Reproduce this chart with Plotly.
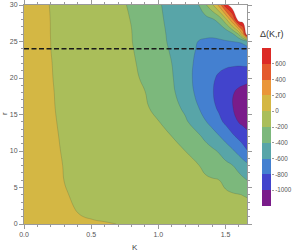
import plotly.graph_objects as go

# ---- data ----
K_vals = [0, 0.1, 0.2, 0.3, 0.4, 0.5, 0.6, 0.7, 0.8, 0.9, 1.0, 1.1, 1.2, 1.3, 1.35, 1.4, 1.45, 1.5, 1.55, 1.6, 1.63, 1.66]
r_vals = [0, 0.5, 1, 2, 4, 6, 8, 10, 12, 14, 16, 18, 20, 22, 24, 25, 26, 28, 30]

delta_r0 = [100, 85, 71, 56, 41, 26, 12, -2, -10, -18, -26, -34, -42, -51, -55, -59, -63, -67, -71, -75, -78, -80]
delta_r05 = [100, 81, 62, 42, 23, 4, -7, -15, -23, -32, -40, -48, -57, -65, -69, -73, -77, -82, -86, -90, -93, -95]
delta_r1 = [100, 76, 52, 29, 5, -7, -16, -25, -34, -43, -51, -60, -69, -78, -83, -87, -92, -96, -100, -105, -108, -110]
delta_r2 = [100, 72, 44, 17, -4, -15, -26, -37, -47, -58, -69, -80, -91, -101, -107, -112, -117, -123, -128, -134, -137, -140]
delta_r4 = [100, 69, 38, 6, -12, -27, -42, -58, -73, -88, -103, -118, -133, -148, -156, -164, -171, -179, -186, -194, -204, -215]
delta_r6 = [100, 66, 32, -1, -18, -35, -52, -69, -86, -103, -120, -137, -154, -171, -180, -188, -197, -232, -284, -337, -368, -400]
delta_r8 = [100, 64, 29, -4, -23, -42, -62, -81, -100, -119, -138, -158, -177, -196, -231, -267, -308, -350, -392, -462, -508, -555]
delta_r10 = [100, 62, 23, -9, -30, -51, -72, -94, -115, -136, -157, -179, -200, -283, -325, -367, -415, -492, -569, -663, -726, -790]
delta_r12 = [100, 59, 18, -13, -36, -60, -83, -106, -130, -153, -177, -200, -287, -374, -441, -508, -585, -673, -764, -845, -890, -935]
delta_r14 = [105, 59, 14, -18, -43, -68, -94, -119, -144, -170, -195, -276, -371, -508, -588, -667, -750, -836, -927, -1011, -1045, -1080]
delta_r16 = [105, 57, 10, -22, -49, -76, -103, -130, -157, -184, -237, -330, -440, -600, -677, -754, -832, -912, -992, -1060, -1090, -1120]
delta_r18 = [110, 59, 8, -24, -53, -82, -111, -140, -168, -197, -278, -365, -500, -653, -720, -787, -853, -920, -987, -1030, -1045, -1060]
delta_r20 = [110, 58, 5, -27, -57, -87, -116, -146, -176, -217, -300, -383, -528, -663, -720, -777, -822, -858, -894, -945, -952, -960]
delta_r22 = [110, 56, 3, -29, -60, -90, -121, -151, -182, -233, -317, -400, -538, -643, -684, -725, -760, -770, -772, -768, -762, -755]
delta_r24 = [115, 57, 0, -32, -63, -95, -127, -159, -190, -256, -336, -421, -526, -620, -650, -670, -685, -695, -695, -690, -680, -665]
delta_r25 = [115, 56, -1, -34, -66, -98, -131, -163, -195, -268, -348, -431, -520, -603, -607, -610, -608, -605, -600, -585, -560, -480]
delta_r26 = [115, 56, -2, -34, -67, -99, -132, -164, -197, -272, -352, -437, -529, -585, -590, -590, -585, -570, -455, -178, 244, 950]
delta_r28 = [120, 57, -3, -36, -69, -102, -136, -169, -204, -284, -364, -455, -555, -510, -470, -430, -338, -76, 356, 950, 950, 950]
delta_r30 = [120, 53, -7, -40, -73, -107, -140, -173, -216, -296, -376, -475, -533, -405, -233, -40, 240, 700, 950, 950, 950, 950]

delta_grid = [delta_r0, delta_r05, delta_r1, delta_r2, delta_r4, delta_r6, delta_r8, delta_r10,
              delta_r12, delta_r14, delta_r16, delta_r18, delta_r20, delta_r22, delta_r24,
              delta_r25, delta_r26, delta_r28, delta_r30]

level_edges = [-1200, -1000, -800, -600, -400, -200, 0, 200, 400, 600, 800]
band_colors = ["#7a1c8a", "#4244cc", "#4480d0", "#58a5a8", "#7cb87c",
               "#aabe5a", "#d4b744", "#ea963a", "#e45a2d", "#dc2a26"]
cbar_ticks = [-1000, -800, -600, -400, -200, 0, 200, 400, 600]
cbar_labels = ["-1000", "-800", "-600", "-400", "-200", "0", "200", "400", "600"]
dashed_r = 24
x_ticks = [0, 0.5, 1.0, 1.5]
x_labels = ["0.0", "0.5", "1.0", "1.5"]
y_ticks = [0, 5, 10, 15, 20, 25, 30]

# ---- stepped colour scale (bands of 200; white above 800) ----
cols = band_colors + ["#ffffff"]
scale = []
for k, c in enumerate(cols):
    lo = 0 if k == 0 else (2 * (k - 1) + 1.5) / 22
    hi = 1 if k == len(cols) - 1 else (2 * k + 1.5) / 22
    scale.append([lo, c])
    scale.append([hi, c])

band_mids = [[(level_edges[i] + level_edges[i + 1]) / 2] for i in range(len(level_edges) - 1)]

FONT = "Liberation Sans"
AX = "#9a9a9a"
TXT = "#555555"

fig = go.Figure()
fig.add_trace(go.Contour(
    x=K_vals, y=r_vals, z=delta_grid,
    autocontour=False,
    contours=dict(start=-1000, end=1000, size=200, coloring="fill", showlines=True),
    colorscale=scale, showscale=False,
    line=dict(color="rgba(40,40,40,0.28)", width=0.6, smoothing=1.3),
    hoverinfo="skip",
))
fig.add_trace(go.Heatmap(
    x=[0, 1], y=level_edges, z=band_mids,
    zmin=-1100, zmax=1100, colorscale=scale, showscale=False,
    xaxis="x2", yaxis="y2", hoverinfo="skip",
))

W, H = 294, 252
ml, mr, mt, mb = 24, 4, 5, 28
pw = W - ml - mr
ph = H - mt - mb


def px_x(p):
    return (p - ml) / pw


def px_y(p):
    return (H - mb - p) / ph


fig.add_shape(type="line", xref="x", yref="y", x0=0, x1=1.66, y0=dashed_r, y1=dashed_r,
              line=dict(color="#1a1a1a", width=1.6, dash="5px,2.5px"))

common = dict(ticks="outside", tickcolor=AX, showline=True, linecolor=AX, linewidth=1,
              mirror="ticks", showgrid=False, zeroline=False, automargin=False,
              tickfont=dict(family=FONT, size=7, color=TXT))

fig.update_layout(
    width=W, height=H,
    margin=dict(l=ml, r=mr, t=mt, b=mb, autoexpand=False),
    paper_bgcolor="white", plot_bgcolor="white",
    showlegend=False,
    xaxis=dict(domain=[0, px_x(247)], range=[0, 1.66], tickvals=x_ticks, ticktext=x_labels,
               ticklen=4, minor=dict(dtick=0.1, tick0=0, ticklen=2, tickcolor=AX, ticks="outside"),
               **common),
    yaxis=dict(domain=[0, 1], range=[0, 30], tickvals=y_ticks, ticklen=4,
               minor=dict(dtick=1, tick0=0, ticklen=2, tickcolor=AX, ticks="outside"),
               **common),
    xaxis2=dict(domain=[px_x(262), px_x(271)], anchor="y2", range=[0, 1], visible=False),
    yaxis2=dict(domain=[px_y(206), px_y(48)], anchor="x2", side="right", range=[-1200, 800],
                tickvals=cbar_ticks, ticktext=cbar_labels, ticks="outside", ticklen=2, tickcolor=AX,
                showline=False, showgrid=False, zeroline=False, automargin=False,
                tickfont=dict(family=FONT, size=6.3, color=TXT)),
    annotations=[
        dict(text="K", xref="paper", yref="paper", x=px_x(135), y=px_y(247),
             xanchor="center", yanchor="middle",
             showarrow=False, font=dict(family=FONT, size=8, color="#444")),
        dict(text="r", xref="paper", yref="paper", x=px_x(4), y=px_y(114), textangle=-90,
             xanchor="center", yanchor="middle",
             showarrow=False, font=dict(family=FONT, size=8, color="#444")),
        dict(text="Δ(K,r)", xref="paper", yref="paper", x=px_x(272), y=px_y(34),
             xanchor="center", yanchor="middle",
             showarrow=False, font=dict(family=FONT, size=9, color="#333")),
    ],
)

fig.write_html("out.html", config={"displayModeBar": False},
               post_script="document.body.style.margin='0';document.body.style.overflow='hidden';")
